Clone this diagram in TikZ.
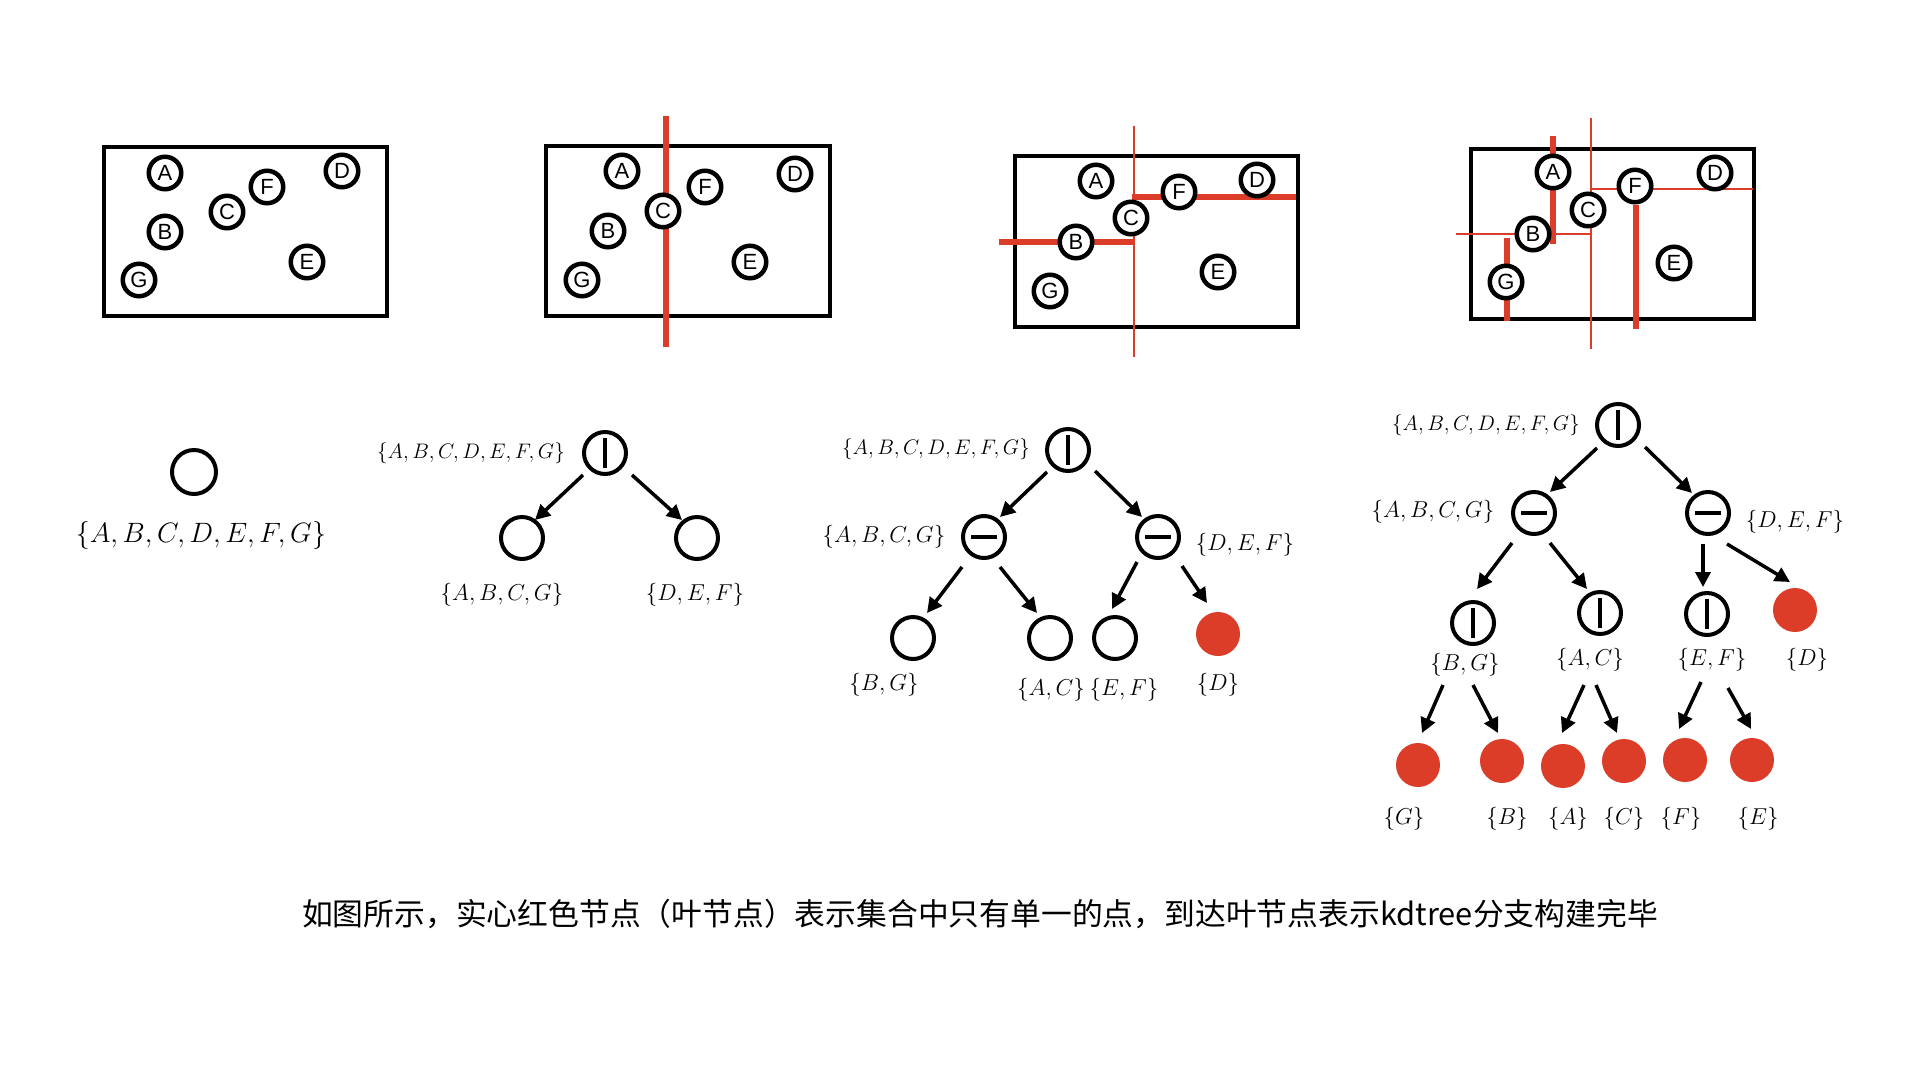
\documentclass[tikz,border=0pt]{standalone}
\usepackage{fix-cm}
\usepackage{fontspec}
\newfontfamily\cjk{Noto Sans CJK SC}
\newfontfamily\lsans{Liberation Sans}
\usetikzlibrary{arrows.meta,calc}
\definecolor{kdred}{RGB}{219,61,41}
\tikzset{
  pt/.style={circle, draw, fill=white, line width=4.5pt, minimum size=32.5pt, inner sep=0pt, font=\lsans\fontsize{22}{22}\selectfont},
  tn/.style={circle, draw, fill=white, line width=4pt, minimum size=42pt, inner sep=0pt},
  vsplit/.style={tn, path picture={\draw[line width=4pt] ([yshift=15pt]path picture bounding box.center) -- ([yshift=-15pt]path picture bounding box.center);}},
  hsplit/.style={tn, path picture={\draw[line width=4pt] ([xshift=-13pt]path picture bounding box.center) -- ([xshift=13pt]path picture bounding box.center);}},
  leaf/.style={circle, fill=kdred, minimum size=44pt, inner sep=0pt},
  arr/.style={line width=3.5pt, -{Triangle[length=15pt,width=15pt]}},
  frame/.style={line width=4pt},
  thincut/.style={kdred, line width=2.5pt},
  thickcut/.style={kdred, line width=5.5pt},
  lbl/.style={inner sep=0pt, font=\fontsize{23}{27}\selectfont},
  rootlbl/.style={inner sep=0pt, font=\fontsize{21}{25}\selectfont},
}
\newcommand\karrow[6]{\draw[arr] ($(#1)+(#2,#3)$) -- ($(#4)+(#5,#6)$);}
\begin{document}
\begin{tikzpicture}[x=1pt,y=-1pt]
\useasboundingbox (0,0) rectangle (1920,1080);
\fill[white] (0,0) rectangle (1920,1080);

% ---------- Panel 1 ----------
\draw[frame] (104,147) rectangle (387,316);
\node[pt] (p1A) at (165,173) {A};
\node[pt] (p1D) at (342,171) {D};
\node[pt] (p1F) at (267,187) {F};
\node[pt] (p1C) at (227,212) {C};
\node[pt] (p1B) at (165,232) {B};
\node[pt] (p1G) at (139,280) {G};
\node[pt] (p1E) at (307,262) {E};

% ---------- Panel 2 ----------
\draw[frame] (546,146) rectangle (830,316);
\draw[kdred, line width=6pt] (666,116) -- (666,347);
\node[pt] (p2A) at (622,171) {A};
\node[pt] (p2F) at (705,187) {F};
\node[pt] (p2D) at (795,174) {D};
\node[pt] (p2C) at (663,211) {C};
\node[pt] (p2B) at (608,231) {B};
\node[pt] (p2G) at (582,280) {G};
\node[pt] (p2E) at (750,262) {E};

% ---------- Panel 3 ----------
\draw[frame] (1015,156) rectangle (1298,327);
\draw[thincut] (1134,126) -- (1134,357);
\draw[thickcut] (999,242) -- (1134,242);
\draw[thickcut] (1132,197) -- (1296,197);
\node[pt] (p3A) at (1096,181) {A};
\node[pt] (p3F) at (1179,192) {F};
\node[pt] (p3D) at (1257,180) {D};
\node[pt] (p3C) at (1131,218) {C};
\node[pt] (p3B) at (1076,242) {B};
\node[pt] (p3G) at (1050,291) {G};
\node[pt] (p3E) at (1218,272) {E};

% ---------- Panel 4 ----------
\draw[frame] (1471,149) rectangle (1754,319);
\draw[thincut] (1591,118) -- (1591,349);
\draw[kdred, line width=2pt] (1456,234) -- (1591,234);
\draw[kdred, line width=2pt] (1591,189) -- (1753,189);
\draw[thickcut] (1553,136) -- (1553,244);
\draw[thickcut] (1507,238) -- (1507,321);
\draw[thickcut] (1636,205) -- (1636,329);
\node[pt] (p4A) at (1553,172) {A};
\node[pt] (p4F) at (1635,186) {F};
\node[pt] (p4D) at (1715,173) {D};
\node[pt] (p4C) at (1588,210) {C};
\node[pt] (p4B) at (1533,234) {B};
\node[pt] (p4G) at (1506,282) {G};
\node[pt] (p4E) at (1674,263) {E};

% ---------- Tree 1 ----------
\node[tn, minimum size=44pt] (t1) at (194,472) {};
\node[inner sep=0pt, font=\fontsize{28}{32}\selectfont] (t1l) at (201,535) {$\{A,B,C,D,E,F,G\}$};

% ---------- Tree 2 ----------
\node[vsplit] (r2) at (605,453) {};
\node[tn] (l2) at (522,538) {};
\node[tn] (q2) at (697,538) {};
\node[rootlbl] (r2l) at (471,453) {$\{A,B,C,D,E,F,G\}$};
\node[lbl] (l2l) at (502,595) {$\{A,B,C,G\}$};
\node[lbl] (q2l) at (695,595) {$\{D,E,F\}$};
\karrow{r2}{-22}{22}{l2}{13}{-18}
\karrow{r2}{27}{22}{q2}{-15}{-18}

% ---------- Tree 3 ----------
\node[vsplit] (r3) at (1068,450) {};
\node[hsplit] (l3) at (984,537) {};
\node[hsplit] (q3) at (1158,537) {};
\node[tn] (bg3) at (913,638) {};
\node[tn] (ac3) at (1050,638) {};
\node[tn] (ef3) at (1115,638) {};
\node[leaf] (d3) at (1218,634) {};
\node[rootlbl] (r3l) at (936,449) {$\{A,B,C,D,E,F,G\}$};
\node[lbl] (l3l) at (884,537) {$\{A,B,C,G\}$};
\node[lbl] (q3l) at (1245,545) {$\{D,E,F\}$};
\node[lbl] (bg3l) at (884,685) {$\{B,G\}$};
\node[lbl] (ac3l) at (1051,690) {$\{A,C\}$};
\node[lbl] (ef3l) at (1124,690) {$\{E,F\}$};
\node[lbl] (d3l) at (1218,685) {$\{D\}$};
\karrow{r3}{-21}{22}{l3}{16}{-20}
\karrow{r3}{27}{21}{q3}{-16}{-20}
\karrow{l3}{-22}{30}{bg3}{14}{-25}
\karrow{l3}{16}{30}{ac3}{-13}{-25}
\karrow{q3}{-21}{25}{ef3}{-3}{-29}
\karrow{q3}{24}{29}{d3}{-11}{-31}

% ---------- Tree 4 ----------
\node[vsplit] (r4) at (1618,425) {};
\node[hsplit] (l4) at (1534,513) {};
\node[hsplit] (q4) at (1708,513) {};
\node[vsplit] (bg4) at (1473,623) {};
\node[vsplit] (ac4) at (1600,613) {};
\node[vsplit] (ef4) at (1707,614) {};
\node[leaf] (d4) at (1795,610) {};
\node[leaf] (g4) at (1418,765) {};
\node[leaf] (b4) at (1502,761) {};
\node[leaf] (a4) at (1563,766) {};
\node[leaf] (c4) at (1624,761) {};
\node[leaf] (f4) at (1685,760) {};
\node[leaf] (e4) at (1752,760) {};
\node[rootlbl] (r4l) at (1486,425) {$\{A,B,C,D,E,F,G\}$};
\node[lbl] (l4l) at (1433,512) {$\{A,B,C,G\}$};
\node[lbl] (q4l) at (1795,522) {$\{D,E,F\}$};
\node[lbl] (bg4l) at (1465,665) {$\{B,G\}$};
\node[lbl] (ac4l) at (1590,660) {$\{A,C\}$};
\node[lbl] (ef4l) at (1712,660) {$\{E,F\}$};
\node[lbl] (d4l) at (1807,660) {$\{D\}$};
\node[lbl] (g4l) at (1404,819) {$\{G\}$};
\node[lbl] (b4l) at (1507,819) {$\{B\}$};
\node[lbl] (a4l) at (1568,819) {$\{A\}$};
\node[lbl] (c4l) at (1624,819) {$\{C\}$};
\node[lbl] (f4l) at (1681,819) {$\{F\}$};
\node[lbl] (e4l) at (1758,819) {$\{E\}$};
\karrow{r4}{-21}{23}{l4}{16}{-21}
\karrow{r4}{27}{22}{q4}{-16}{-20}
\karrow{l4}{-22}{30}{bg4}{4}{-34}
\karrow{l4}{16}{30}{ac4}{-13}{-24}
\karrow{q4}{-5}{31}{ef4}{-4}{-27}
\karrow{q4}{19}{31}{d4}{-5}{-28}
\karrow{bg4}{-30}{62}{g4}{4}{-32}
\karrow{bg4}{0}{62}{b4}{-4}{-28}
\karrow{ac4}{-16}{72}{a4}{-1}{-33}
\karrow{ac4}{-4}{72}{c4}{-7}{-28}
\karrow{ef4}{-6}{68}{f4}{-6}{-31}
\karrow{ef4}{21}{74}{e4}{-1}{-31}

% ---------- Caption ----------
\node[inner sep=0pt, font=\cjk\fontsize{30.8}{36}\selectfont] (cap) at (980,914) {如图所示，实心红色节点（叶节点）表示集合中只有单一的点，到达叶节点表示kdtree分支构建完毕};
\end{tikzpicture}
\end{document}
